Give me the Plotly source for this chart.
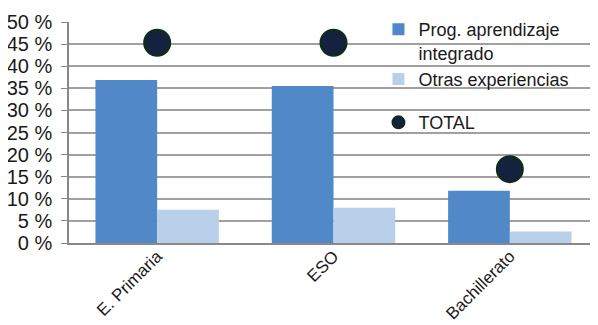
import plotly.graph_objects as go

categories = ["E. Primaria", "ESO", "Bachillerato"]
prog_aprendizaje = [36.9, 35.5, 11.8]
otras_experiencias = [7.5, 8.0, 2.6]
total = [45.3, 45.3, 16.7]
y_ticks = [0, 5, 10, 15, 20, 25, 30, 35, 40, 45, 50]

FONT = "Liberation Sans, Arial, sans-serif"
TXT = "#1a1a1a"

fig = go.Figure()
fig.add_trace(go.Bar(
    x=categories, y=prog_aprendizaje, name="Prog. aprendizaje<br>integrado",
    marker=dict(color="#5088C8", line=dict(width=0)), legendgroup="a",
))
fig.add_trace(go.Bar(
    x=categories, y=otras_experiencias, name="Otras experiencias",
    marker=dict(color="#B9D0EA", line=dict(width=0)), legendgroup="a",
))
fig.add_trace(go.Scatter(
    x=categories, y=total, name="TOTAL", mode="markers",
    marker=dict(color="#14213F", size=26, line=dict(color="#0E2E14", width=2)),
    legendgroup="b",
))

# page body has an 8px default margin, so the figure is sized to fit the window
fig.update_layout(
    width=590, height=317,
    margin=dict(l=61, r=0, t=14, b=82, autoexpand=False),
    paper_bgcolor="white", plot_bgcolor="white",
    font=dict(family=FONT, size=18, color=TXT),
    barmode="group", bargap=0.3, bargroupgap=0,
    showlegend=True,
    legend=dict(
        x=0.585, y=1.05, xanchor="left", yanchor="top",
        bgcolor="rgba(0,0,0,0)", font=dict(family=FONT, size=18, color=TXT),
        traceorder="grouped", tracegroupgap=17, valign="top",
        itemsizing="constant",
    ),
    shapes=[dict(type="rect", xref="paper", yref="paper",
                 x0=0.594, x1=1.01, y0=0.36, y1=1.08,
                 fillcolor="white", line=dict(width=0), layer="between")],
)
fig.update_yaxes(
    range=[0, 50], tickvals=y_ticks, ticktext=[f"{v} %" for v in y_ticks],
    showgrid=True, gridcolor="#A0A0A0", gridwidth=1.5,
    showline=True, linecolor="#888888", linewidth=1.5,
    ticks="outside", ticklen=6, tickcolor="#888888",
    ticklabelstandoff=5,
    tickfont=dict(family=FONT, size=20, color=TXT),
    zeroline=False, automargin=False,
)
fig.update_xaxes(
    showline=True, linecolor="#888888", linewidth=1.5,
    tickangle=-45, ticks="", tickfont=dict(family=FONT, size=17, color=TXT),
    ticklabelstandoff=-5,
    automargin=False,
)

fig.write_html("out.html")
